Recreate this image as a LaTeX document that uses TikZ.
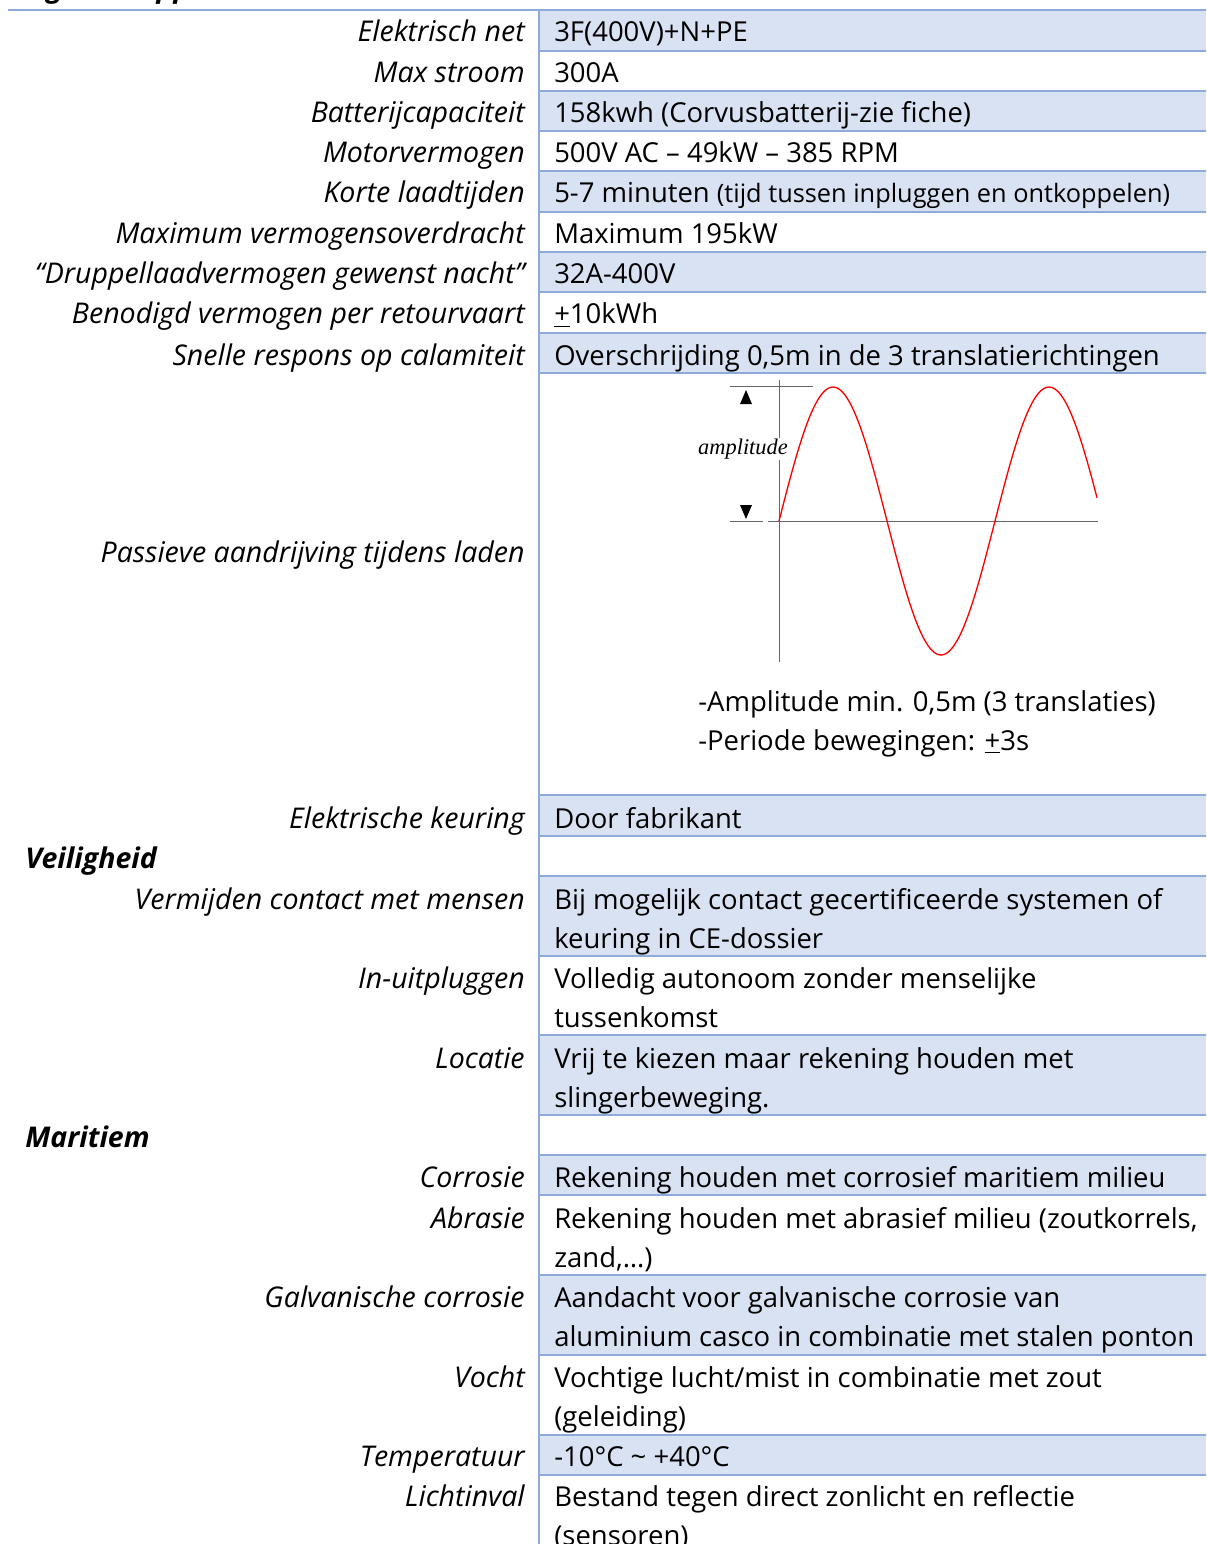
\documentclass[tikz,border=0pt]{standalone}
\usepackage{fontspec}
\setmainfont{Open Sans}
\newfontfamily\graphfont{Liberation Serif}
\definecolor{gridblue}{HTML}{8EAADB}
\definecolor{rowblue}{HTML}{D9E2F3}
\newcommand{\cellfont}{\fontsize{20.6}{29.25}\selectfont}
\newcommand{\labelfont}{\fontsize{21.4}{29.25}\selectfont\itshape}

\begin{document}
\begin{tikzpicture}[
        x=0.75pt, y=-0.75pt,
        label cell/.style={
            anchor=base east,
            inner sep=0pt,
            font=\labelfont
        },
        value cell/.style={
            anchor=base west,
            inner sep=0pt,
            align=left,
            font=\cellfont
        },
        group title/.style={
            anchor=base west,
            inner sep=0pt,
            font=\labelfont\bfseries
        },
        grid line/.style={draw=gridblue, line width=1.5pt},
        axis line/.style={draw=black!60, line width=0.75pt}
    ]
        \clip (0,0) rectangle (1206,1544);
        \useasboundingbox (0,0) rectangle (1206,1544);

        \foreach \ytop/\ybot in {10/51, 91/131, 171/212, 252/292, 333/373, 795/836,
                876/956, 1035/1115, 1155/1195, 1275/1355, 1435/1475}
            \fill[rowblue] (539,\ytop) rectangle (1206,\ybot);
        \foreach \y in {51, 91, 131, 171, 212, 252, 292, 333, 373, 795, 836, 876,
                956, 1035, 1115, 1155, 1195, 1275, 1355, 1435, 1475}
            \draw[grid line] (539,\y) -- (1206,\y);
        \draw[grid line] (8,10) -- (1206,10);
        \draw[grid line] (539,10) -- (539,1544);

        \node[group title] (eigen) at (22,-2) {eigenschappen};

        \node[label cell] (net) at (525,42) {Elektrisch net};
        \node[value cell] (netv) at (554,42) {3F(400V)+N+PE};
        \node[label cell] (stroom) at (525,83) {Max stroom};
        \node[value cell] (stroomv) at (554,83) {300A};
        \node[label cell] (batterij) at (525,123) {Batterijcapaciteit};
        \node[value cell] (batterijv) at (554,123) {158kwh (Corvusbatterij-zie fiche)};
        \node[label cell] (motor) at (525,163) {Motorvermogen};
        \node[value cell] (motorv) at (554,163) {500V AC – 49kW – 385 RPM};
        \node[label cell] (laadtijd) at (525,203) {Korte laadtijden};
        \node[value cell] (laadtijdv) at (554,203)
            {5-7 minuten {\fontsize{19}{20}\selectfont(tijd tussen inpluggen en ontkoppelen)}};
        \node[label cell] (overdracht) at (525,244) {Maximum vermogensoverdracht};
        \node[value cell] (overdrachtv) at (554,244) {Maximum 195kW};
        \node[label cell] (druppel) at (525,284) {“Druppellaadvermogen gewenst nacht”};
        \node[value cell] (druppelv) at (554,284) {32A-400V};
        \node[label cell] (retour) at (525,324) {Benodigd vermogen per retourvaart};
        \node[value cell] (retourv) at (554,324) {\underline{+}10kWh};
        \node[label cell] (calamiteit) at (525,365) {Snelle respons op calamiteit};
        \node[value cell] (calamiteitv) at (554,365) {Overschrijding 0,5m in de 3 translatierichtingen};
        \node[label cell] (passief) at (525,562) {Passieve aandrijving tijdens laden};

        \draw[axis line] (779,380) -- (779,662);
        \draw[axis line] (768,521) -- (1098,521);
        \draw[axis line] (730,386) -- (813,386);
        \draw[axis line] (730,521) -- (763,521);
        \fill (740,404) -- (752,404) -- (746,390) -- cycle;
        \fill (740,505) -- (752,505) -- (746,519) -- cycle;
        \node[fill=white, inner sep=1pt, font=\graphfont\itshape\fontsize{16.8}{18}\selectfont]
            (amp) at (743,449) {amplitude};
        \draw[red, line width=1pt] plot[domain=0:318, samples=120, smooth]
            ({779+\x}, {521-134*sin(\x/216*360)});

        \node[value cell] (passiefv) at (698,750)
            {-Amplitude min. 0,5m (3 translaties)\\-Periode bewegingen: \underline{+}3s};

        \node[label cell] (keuring) at (525,828) {Elektrische keuring};
        \node[value cell] (keuringv) at (554,828) {Door fabrikant};
        \node[group title] (veilig) at (25,868) {Veiligheid};
        \node[label cell] (contact) at (525,909) {Vermijden contact met mensen};
        \node[value cell] (contactv) at (554,948)
            {Bij mogelijk contact gecertificeerde systemen of\\keuring in CE-dossier};
        \node[label cell] (pluggen) at (525,988) {In-uitpluggen};
        \node[value cell] (pluggenv) at (554,1027)
            {Volledig autonoom zonder menselijke\\tussenkomst};
        \node[label cell] (locatie) at (525,1068) {Locatie};
        \node[value cell] (locatiev) at (554,1107)
            {Vrij te kiezen maar rekening houden met\\slingerbeweging.};
        \node[group title] (maritiem) at (25,1147) {Maritiem};
        \node[label cell] (corrosie) at (525,1187) {Corrosie};
        \node[value cell] (corrosiev) at (554,1187) {Rekening houden met corrosief maritiem milieu};
        \node[label cell] (abrasie) at (525,1228) {Abrasie};
        \node[value cell] (abrasiev) at (554,1267)
            {Rekening houden met abrasief milieu (zoutkorrels,\\zand,…)};
        \node[label cell] (galvanisch) at (525,1307) {Galvanische corrosie};
        \node[value cell] (galvanischv) at (554,1346)
            {Aandacht voor galvanische corrosie van\\aluminium casco in combinatie met stalen ponton};
        \node[label cell] (vocht) at (525,1387) {Vocht};
        \node[value cell] (vochtv) at (554,1426)
            {Vochtige lucht/mist in combinatie met zout\\(geleiding)};
        \node[label cell] (temp) at (525,1466) {Temperatuur};
        \node[value cell] (tempv) at (554,1466) {-10°C \textasciitilde{} +40°C};
        \node[label cell] (licht) at (525,1506) {Lichtinval};
        \node[value cell] (lichtv) at (554,1545)
            {Bestand tegen direct zonlicht en reflectie\\(sensoren)};
    \end{tikzpicture}
\end{document}
